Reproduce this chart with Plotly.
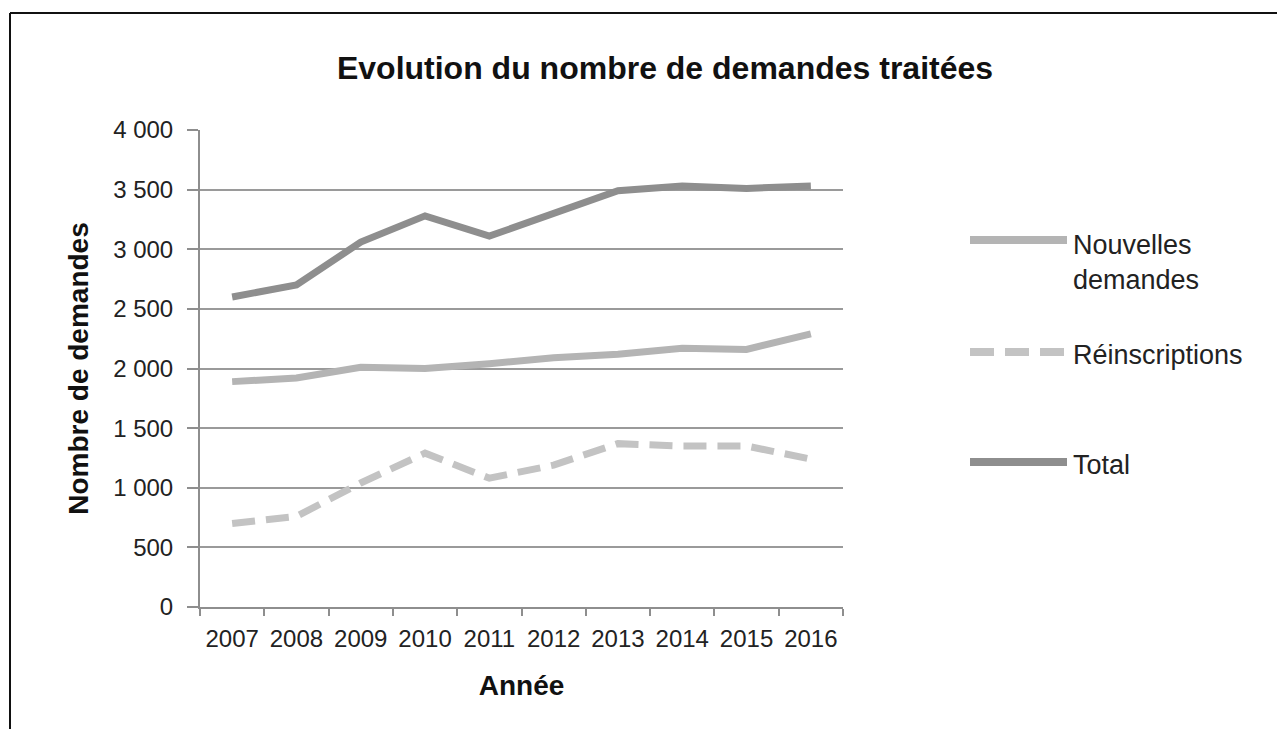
import plotly.graph_objects as go

years = ["2007", "2008", "2009", "2010", "2011", "2012", "2013", "2014", "2015", "2016"]
nouvelles = [1890, 1920, 2010, 2000, 2040, 2090, 2120, 2170, 2160, 2290]
reinscriptions = [700, 760, 1040, 1290, 1080, 1190, 1370, 1350, 1350, 1240]
total = [2600, 2700, 3060, 3280, 3110, 3300, 3490, 3530, 3510, 3530]
ytick_vals = [0, 500, 1000, 1500, 2000, 2500, 3000, 3500, 4000]
ytick_text = ["0", "500", "1 000", "1 500", "2 000", "2 500", "3 000", "3 500", "4 000"]

FONT = "Liberation Sans, Arial, sans-serif"
C_NOUV = "#b4b4b4"
C_REIN = "#c3c3c3"
C_TOT = "#8e8e8e"

OFF = 8  # default page body margin
W, H = 1285 - OFF, 729 - OFF
L, R, T, B = 200 - OFF, 843 - OFF, 130 - OFF, 607 - OFF  # plot area in figure pixels


def px(x):  # page pixel -> paper x
    return (x - OFF - L) / (R - L)


def py(y):  # page pixel -> paper y
    return (B - (y - OFF)) / (B - T)


fig = go.Figure()
fig.add_trace(go.Scatter(x=years, y=nouvelles, mode="lines", name="Nouvelles demandes",
                         line=dict(color=C_NOUV, width=7), showlegend=False))
fig.add_trace(go.Scatter(x=years, y=reinscriptions, mode="lines", name="Réinscriptions",
                         line=dict(color=C_REIN, width=7, dash="23px,11px"), showlegend=False))
fig.add_trace(go.Scatter(x=years, y=total, mode="lines", name="Total",
                         line=dict(color=C_TOT, width=7), showlegend=False))

shapes = []
annotations = []
# custom legend
legend_items = [
    ("Nouvelles<br>demandes", C_NOUV, None, 240, 262),
    ("Réinscriptions", C_REIN, "24px,11px", 352, 355),
    ("Total", C_TOT, None, 462, 465),
]
for text, col, dash, ly, ty in legend_items:
    ln = dict(color=col, width=8)
    if dash:
        ln["dash"] = dash
    shapes.append(dict(type="line", xref="paper", yref="paper",
                       x0=px(970), x1=px(1067), y0=py(ly), y1=py(ly), line=ln))
    annotations.append(dict(text=text, xref="paper", yref="paper", x=px(1071), y=py(ty),
                            xanchor="left", yanchor="middle", showarrow=False, align="left",
                            font=dict(family=FONT, size=27, color="#222222")))

# outer frame (top and left borders)
shapes.append(dict(type="line", xref="paper", yref="paper", x0=px(10), x1=px(1295),
                   y0=py(13), y1=py(13), line=dict(color="#111111", width=2)))
shapes.append(dict(type="line", xref="paper", yref="paper", x0=px(10), x1=px(10),
                   y0=py(13), y1=py(740), line=dict(color="#111111", width=2)))

fig.update_layout(
    width=W, height=H,
    margin=dict(l=L, r=W - R, t=T, b=H - B),
    paper_bgcolor="white", plot_bgcolor="white",
    title=dict(text="<b>Evolution du nombre de demandes traitées</b>",
               xref="container", x=(665 - OFF) / W, xanchor="center",
               yref="container", y=1 - (68 - OFF) / H, yanchor="middle",
               font=dict(family=FONT, size=32, color="#111111")),
    font=dict(family=FONT, size=24, color="#222222"),
    shapes=shapes,
    annotations=annotations,
    xaxis=dict(
        type="category", range=[-0.5, 9.5], tickson="boundaries",
        showgrid=False, showline=True, linecolor="#8e8e8e", linewidth=2,
        ticks="outside", ticklen=7, tickwidth=1.5, tickcolor="#8e8e8e",
        ticklabelstandoff=9, tickangle=0,
        tickfont=dict(family=FONT, size=24, color="#222222"),
        title=dict(text="<b>Année</b>", font=dict(family=FONT, size=28, color="#111111"),
                   standoff=25),
        automargin=False,
    ),
    yaxis=dict(
        range=[0, 4000], tickvals=ytick_vals, ticktext=ytick_text,
        showgrid=True, gridcolor="#9a9a9a", gridwidth=2,
        showline=True, linecolor="#8e8e8e", linewidth=2,
        ticks="outside", ticklen=11, tickwidth=1.5, tickcolor="#8e8e8e",
        ticklabelstandoff=9,
        tickfont=dict(family=FONT, size=24, color="#222222"),
        title=dict(text="<b>Nombre de demandes</b>", font=dict(family=FONT, size=28, color="#111111"),
                   standoff=16),
        zeroline=False, automargin=False,
    ),
)

fig.write_html("out.html")
